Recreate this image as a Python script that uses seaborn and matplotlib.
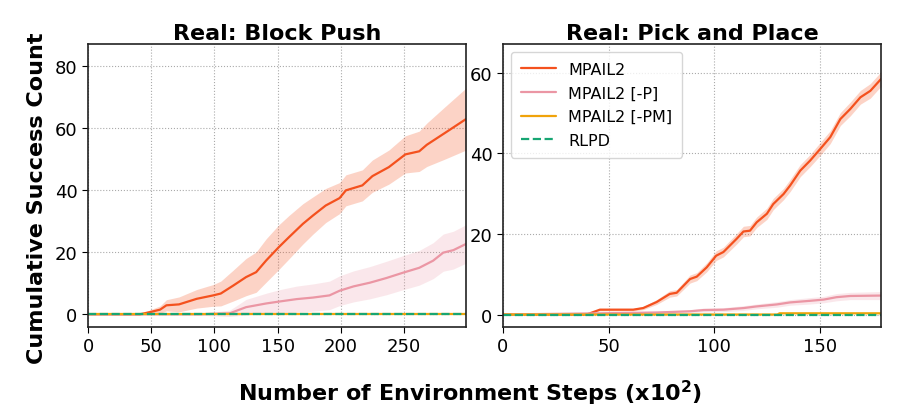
import numpy as np
import pandas as pd
import matplotlib
matplotlib.use("Agg")
import matplotlib.pyplot as plt
import seaborn as sns

# ---- Real: Block Push ----
push_x = [0, 41, 50, 57, 62, 72, 86, 99, 105, 115, 125, 133, 141, 151, 159, 170, 178, 188, 199, 204,
          217, 225, 238, 251, 262, 268, 283, 299]
push_mpail2 = [0, 0, 0.8, 1.5, 2.9, 3.2, 5.0, 6.1, 6.7, 9.3, 12.0, 13.6, 17.4, 21.7, 24.9, 29.2, 31.9,
               35.1, 37.5, 40.0, 41.6, 44.6, 47.5, 51.6, 52.6, 54.7, 58.7, 63.0]
push_mpail2_sd = [0, 0, 0.8, 1.2, 1.8, 2.4, 3.0, 3.5, 4.0, 5.0, 6.0, 6.5, 7.0, 7.2, 7.0, 6.5, 6.0,
                  5.5, 5.0, 5.0, 5.0, 5.2, 5.5, 6.0, 6.5, 7.0, 8.5, 10.0]
push_p_x = [0, 88, 112, 125, 141, 151, 165, 178, 191, 199, 210, 223, 236, 249, 262, 273, 281, 289, 299]
push_p = [0, 0, 0.3, 2.3, 3.5, 4.1, 4.9, 5.4, 6.1, 7.6, 9.0, 10.2, 11.7, 13.4, 15.0, 17.3, 19.9, 20.7, 22.7]
push_p_sd = [0, 0.3, 1.0, 2.5, 3.3, 3.8, 4.2, 4.4, 4.6, 4.8, 5.0, 5.2, 5.4, 5.5, 5.6, 5.8, 6.0, 6.1, 6.2]
push_flat_x = [0, 299]
push_pm = [0, 0]
push_rlpd = [0, 0]

# ---- Real: Pick and Place ----
pick_x = [0, 39.6, 45.9, 61.7, 66.4, 72.8, 79, 82.3, 88.6, 91.8, 96.5, 101, 104.4, 110.7, 113.9, 117,
          120.2, 125, 128, 132.9, 136, 140.8, 145.5, 150.3, 155, 159.8, 164.5, 169.3, 174, 179]
pick_mpail2 = [0, 0, 1.2, 1.2, 1.6, 3.1, 5.1, 5.4, 8.8, 9.4, 11.7, 14.6, 15.5, 18.8, 20.6, 20.8, 22.9,
               25.0, 27.4, 29.9, 32.0, 35.7, 38.2, 41.1, 44.0, 48.5, 51.0, 53.9, 55.5, 58.4]
pick_mpail2_sd = [0, 0, 0.3, 0.3, 0.4, 0.6, 0.8, 0.8, 1.0, 1.0, 1.1, 1.2, 1.2, 1.3, 1.3, 1.3, 1.3,
                  1.4, 1.4, 1.4, 1.5, 1.5, 1.5, 1.6, 1.6, 1.6, 1.7, 1.7, 1.8, 1.8]
pick_p_x = [0, 46, 73, 88.6, 95, 104.4, 114, 120, 129.7, 136, 145.5, 151.9, 158, 164.5, 179]
pick_p = [0, 0.3, 0.5, 0.8, 1.1, 1.2, 1.6, 2.0, 2.5, 3.0, 3.4, 3.7, 4.3, 4.6, 4.7]
pick_p_sd = [0, 0.2, 0.3, 0.4, 0.5, 0.5, 0.6, 0.6, 0.7, 0.7, 0.8, 0.8, 0.9, 0.9, 1.0]
pick_pm_x = [0, 130, 131, 179]
pick_pm = [0, 0, 0.3, 0.3]
pick_rlpd_x = [0, 179]
pick_rlpd = [0, 0]

c_mpail2 = "#f4511e"
c_p = "#eb96a4"
c_pm = "#f0a30a"
c_rlpd = "#17a673"

sns.set_style("white")
plt.rcParams["font.family"] = ["DejaVu Sans"]
plt.rcParams["text.color"] = "black"
plt.rcParams["xtick.color"] = "black"
plt.rcParams["ytick.color"] = "black"
plt.rcParams["axes.labelcolor"] = "black"

fig = plt.figure(figsize=(9.02, 4.10), dpi=100)
ax1 = fig.add_axes([0.0976, 0.2, 0.419, 0.690])
ax2 = fig.add_axes([0.5576, 0.2, 0.419, 0.690])


def draw(ax, x, y, sd, color, label, band_alpha=0.25):
    df = pd.DataFrame({"x": x, "y": y})
    sns.lineplot(data=df, x="x", y="y", ax=ax, color=color, lw=1.6, label=label)
    lo = np.array(y) - np.array(sd)
    hi = np.array(y) + np.array(sd)
    ax.fill_between(x, lo, hi, color=color, alpha=band_alpha, lw=0)


def flat(ax, x, y, color, label, ls="-"):
    df = pd.DataFrame({"x": x, "y": y})
    sns.lineplot(data=df, x="x", y="y", ax=ax, color=color, lw=1.6, ls=ls, label=label)


draw(ax1, push_x, push_mpail2, push_mpail2_sd, c_mpail2, "MPAIL2")
draw(ax1, push_p_x, push_p, push_p_sd, c_p, "MPAIL2 [-P]", band_alpha=0.22)
flat(ax1, push_flat_x, push_pm, c_pm, "MPAIL2 [-PM]")
flat(ax1, push_flat_x, push_rlpd, c_rlpd, "RLPD", ls="--")

draw(ax2, pick_x, pick_mpail2, pick_mpail2_sd, c_mpail2, "MPAIL2")
draw(ax2, pick_p_x, pick_p, pick_p_sd, c_p, "MPAIL2 [-P]", band_alpha=0.22)
flat(ax2, pick_pm_x, pick_pm, c_pm, "MPAIL2 [-PM]")
flat(ax2, pick_rlpd_x, pick_rlpd, c_rlpd, "RLPD", ls="--")

ax1.set_xlim(0, 299)
ax1.set_ylim(-4.1, 87.2)
ax1.set_xticks([0, 50, 100, 150, 200, 250])
ax1.set_yticks([0, 20, 40, 60, 80])
ax2.set_xlim(0, 179)
ax2.set_ylim(-3.1, 67.1)
ax2.set_xticks([0, 50, 100, 150])
ax2.set_yticks([0, 20, 40, 60])

for ax, title in [(ax1, "Real: Block Push"), (ax2, "Real: Pick and Place")]:
    ax.set_title(title, fontsize=16, fontweight="bold", pad=4, color="black")
    ax.set_xlabel("")
    ax.set_ylabel("")
    ax.grid(True, ls=":", color="#aaaaaa", lw=0.8)
    ax.tick_params(axis="both", labelsize=13, length=4, direction="out", left=True, bottom=True,
                   color="black", labelcolor="black")
    for s in ax.spines.values():
        s.set_color("#222222")
        s.set_linewidth(1.2)

ax1.get_legend().remove()
leg = ax2.legend(loc="upper left", fontsize=11.5, frameon=True, handlelength=2.2,
                 borderpad=0.6, labelspacing=0.55)
leg.get_frame().set_edgecolor("#cccccc")
for t in leg.get_texts():
    t.set_color("black")

fig.text(0.041, 0.517, "Cumulative Success Count", rotation=90, ha="center", va="center",
         fontsize=16, fontweight="bold", color="black")
fig.text(0.521, 0.041, "Number of Environment Steps (x10$^{\\mathbf{2}}$)", ha="center",
         va="center", fontsize=16, fontweight="bold", color="black")

fig.savefig("out.png", dpi=100)
plt.close(fig)
